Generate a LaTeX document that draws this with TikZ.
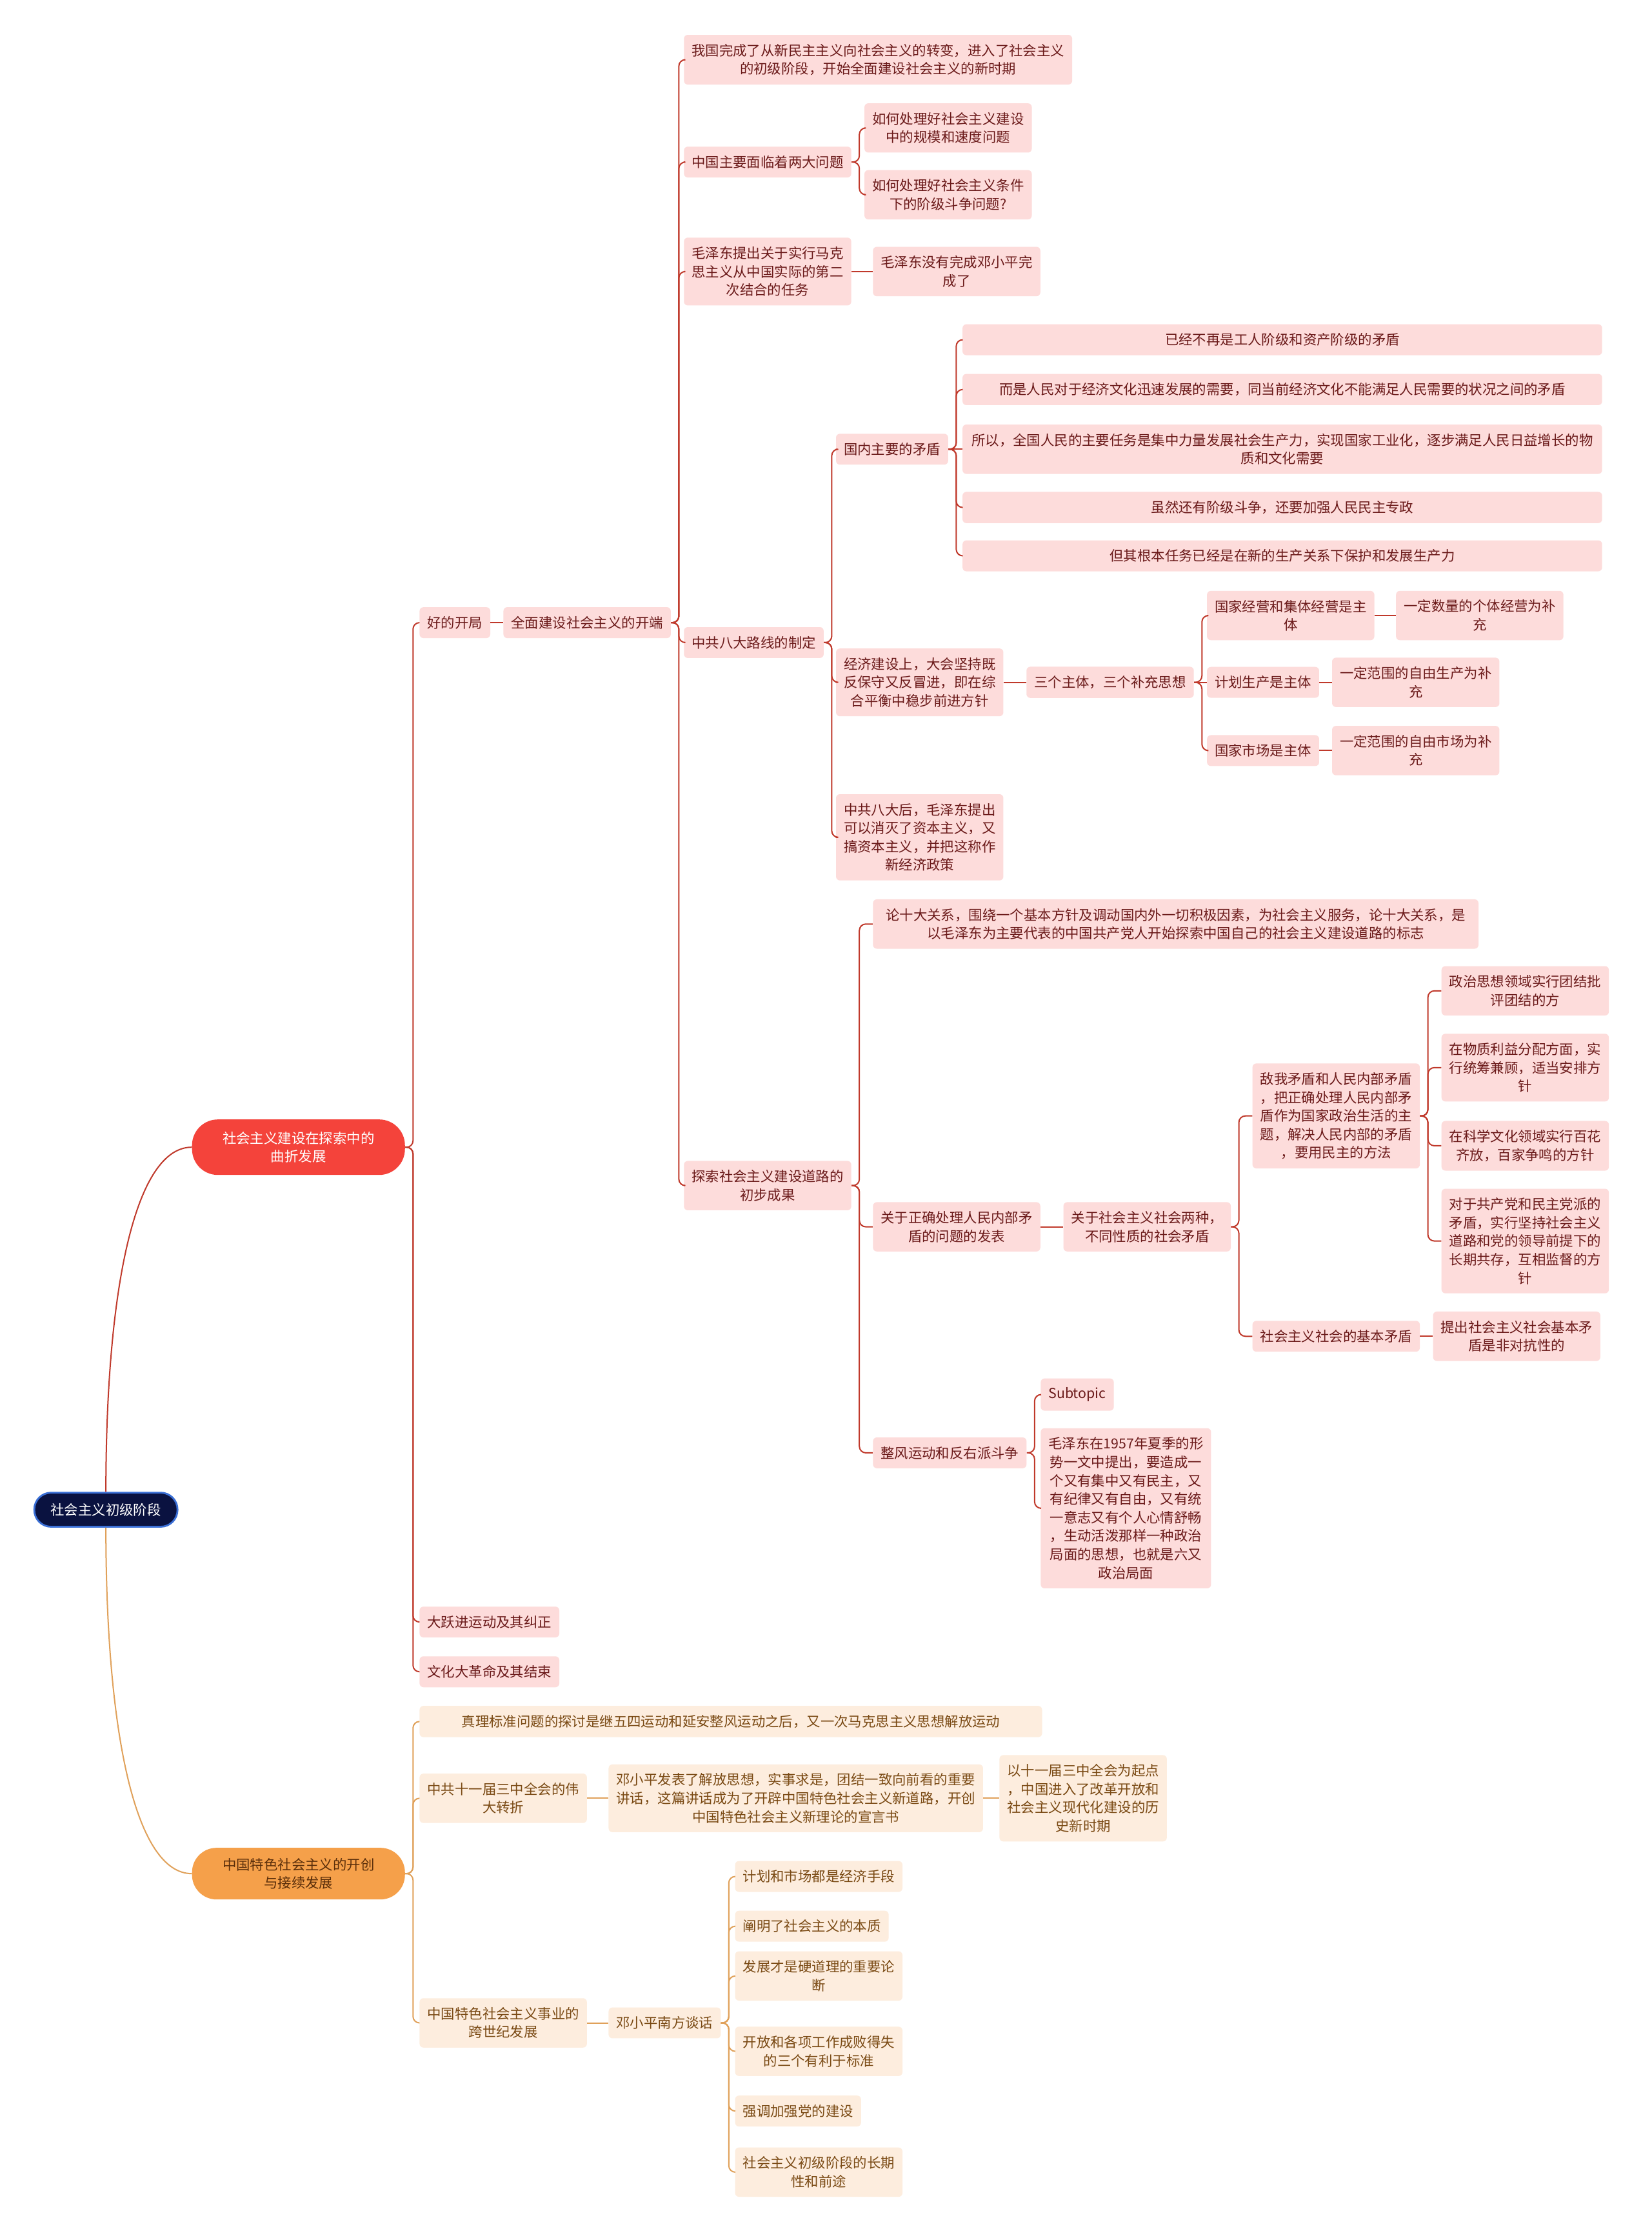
\documentclass[tikz,border=0pt]{standalone}
\usepackage{fontspec}
\setmainfont{Noto Sans CJK SC}
\usetikzlibrary{calc}
\definecolor{rline}{HTML}{C0392B}
\definecolor{rfill}{HTML}{FDDCDB}
\definecolor{rtext}{HTML}{6B1A1A}
\definecolor{oline}{HTML}{E0A15A}
\definecolor{ofill}{HTML}{FDEDDE}
\definecolor{otext}{HTML}{7A4A14}
\definecolor{afill}{HTML}{F4433B}
\definecolor{bfill}{HTML}{F5A04A}
\definecolor{btext}{HTML}{5A2E0A}
\definecolor{rootfill}{HTML}{0A1240}
\definecolor{rootdraw}{HTML}{3A6FD6}
\newcommand{\bx}{\fontsize{10.7pt}{14.3pt}\selectfont}
\newcommand{\busln}[3]{\draw[#1] (#2.east) -- ++(5.5,0) |- (#3.west);}
\newcommand{\strln}[3]{\draw[#1] (#2.east) -- (#3.west);}
\begin{document}
\begin{tikzpicture}[x=1.1016pt,y=-1.1016pt,
  basebox/.style={rounded corners=3pt, inner xsep=6pt, inner ysep=7pt, align=center, font=\bx, anchor=west},
  rb/.style={basebox, fill=rfill, text=rtext},
  ob/.style={basebox, fill=ofill, text=otext},
  rl/.style={draw=rline, line width=1pt, rounded corners=5pt},
  ol/.style={draw=oline, line width=1pt, rounded corners=5pt},
  wide/.style={minimum width=#1*1.1016pt}
]
\fill[white] (0,0) rectangle (1162,1568);
\useasboundingbox (0,0) rectangle (1162,1568);

% root and main branches
\node[fill=rootfill, draw=rootdraw, line width=1.4pt, rounded corners=13pt, text=white, font=\bx,
  minimum width=111pt, minimum height=26.4pt, inner sep=2pt] (root) at (74.5,1062) {社会主义初级阶段};
\node[fill=afill, text=white, rounded corners=20pt, font=\bx, align=center,
  minimum width=165pt, minimum height=43pt, inner sep=2pt] (A) at (210,807) {社会主义建设在探索中的\\曲折发展};
\node[fill=bfill, text=btext, rounded corners=19pt, font=\bx, align=center,
  minimum width=165pt, minimum height=40pt, inner sep=2pt] (B) at (210,1318) {中国特色社会主义的开创\\与接续发展};

% red branch
\node[rb] (a1) at (295,438) {好的开局};
\node[rb] (a2) at (295,1141) {大跃进运动及其纠正};
\node[rb] (a3) at (295,1176) {文化大革命及其结束};
\node[rb] (a11) at (354,438) {全面建设社会主义的开端};

\node[rb] (b1) at (481,42) {我国完成了从新民主主义向社会主义的转变，进入了社会主义\\的初级阶段，开始全面建设社会主义的新时期};
\node[rb] (b2) at (481,114) {中国主要面临着两大问题};
\node[rb] (b3) at (481,191) {毛泽东提出关于实行马克\\思主义从中国实际的第二\\次结合的任务};
\node[rb] (b4) at (481,452) {中共八大路线的制定};
\node[rb] (b5) at (481,834) {探索社会主义建设道路的\\初步成果};

\node[rb] (b21) at (608,90) {如何处理好社会主义建设\\中的规模和速度问题};
\node[rb] (b22) at (608,137) {如何处理好社会主义条件\\下的阶级斗争问题?};
\node[rb] (b31) at (614,191) {毛泽东没有完成邓小平完\\成了};

\node[rb] (c1) at (588,316) {国内主要的矛盾};
\node[rb] (c2) at (588,480) {经济建设上，大会坚持既\\反保守又反冒进，即在综\\合平衡中稳步前进方针};
\node[rb] (c3) at (588,589) {中共八大后，毛泽东提出\\可以消灭了资本主义，又\\搞资本主义，并把这称作\\新经济政策};

\node[rb, wide=450] (c11) at (677,239) {已经不再是工人阶级和资产阶级的矛盾};
\node[rb, wide=450] (c12) at (677,274) {而是人民对于经济文化迅速发展的需要，同当前经济文化不能满足人民需要的状况之间的矛盾};
\node[rb, wide=450] (c13) at (677,316) {所以，全国人民的主要任务是集中力量发展社会生产力，实现国家工业化，逐步满足人民日益增长的物\\质和文化需要};
\node[rb, wide=450] (c14) at (677,357) {虽然还有阶级斗争，还要加强人民民主专政};
\node[rb, wide=450] (c15) at (677,391) {但其根本任务已经是在新的生产关系下保护和发展生产力};

\node[rb] (c21) at (722,480) {三个主体，三个补充思想};
\node[rb] (d1) at (849,433) {国家经营和集体经营是主\\体};
\node[rb] (d2) at (849,480) {计划生产是主体};
\node[rb] (d3) at (849,528) {国家市场是主体};
\node[rb] (d11) at (982,433) {一定数量的个体经营为补\\充};
\node[rb] (d21) at (937,480) {一定范围的自由生产为补\\充};
\node[rb] (d31) at (937,528) {一定范围的自由市场为补\\充};

\node[rb, wide=426] (e1) at (614,650) {论十大关系，围绕一个基本方针及调动国内外一切积极因素，为社会主义服务，论十大关系，是\\以毛泽东为主要代表的中国共产党人开始探索中国自己的社会主义建设道路的标志};
\node[rb] (e2) at (614,863) {关于正确处理人民内部矛\\盾的问题的发表};
\node[rb] (e3) at (614,1022) {整风运动和反右派斗争};
\node[rb] (e21) at (748,863) {关于社会主义社会两种，\\不同性质的社会矛盾};
\node[rb] (f1) at (881,785) {敌我矛盾和人民内部矛盾\\，把正确处理人民内部矛\\盾作为国家政治生活的主\\题，解决人民内部的矛盾\\，要用民主的方法};
\node[rb] (f2) at (881,940) {社会主义社会的基本矛盾};
\node[rb] (f11) at (1014,697) {政治思想领域实行团结批\\评团结的方};
\node[rb] (f12) at (1014,751) {在物质利益分配方面，实\\行统筹兼顾，适当安排方\\针};
\node[rb] (f13) at (1014,806) {在科学文化领域实行百花\\齐放，百家争鸣的方针};
\node[rb] (f14) at (1014,873) {对于共产党和民主党派的\\矛盾，实行坚持社会主义\\道路和党的领导前提下的\\长期共存，互相监督的方\\针};
\node[rb] (f21) at (1008,940) {提出社会主义社会基本矛\\盾是非对抗性的};
\node[rb] (g1) at (732,981) {Subtopic};
\node[rb] (g2) at (732,1061) {毛泽东在1957年夏季的形\\势一文中提出，要造成一\\个又有集中又有民主，又\\有纪律又有自由，又有统\\一意志又有个人心情舒畅\\，生动活泼那样一种政治\\局面的思想，也就是六又\\政治局面};

% orange branch
\node[ob, wide=438] (h1) at (295,1211) {真理标准问题的探讨是继五四运动和延安整风运动之后，又一次马克思主义思想解放运动};
\node[ob] (h2) at (295,1265) {中共十一届三中全会的伟\\大转折};
\node[ob] (h3) at (295,1423) {中国特色社会主义事业的\\跨世纪发展};
\node[ob] (h21) at (428,1265) {邓小平发表了解放思想，实事求是，团结一致向前看的重要\\讲话，这篇讲话成为了开辟中国特色社会主义新道路，开创\\中国特色社会主义新理论的宣言书};
\node[ob] (h211) at (703,1265) {以十一届三中全会为起点\\，中国进入了改革开放和\\社会主义现代化建设的历\\史新时期};
\node[ob] (h31) at (428,1423) {邓小平南方谈话};
\node[ob] (i1) at (517,1320) {计划和市场都是经济手段};
\node[ob] (i2) at (517,1355) {阐明了社会主义的本质};
\node[ob] (i3) at (517,1390) {发展才是硬道理的重要论\\断};
\node[ob] (i4) at (517,1443) {开放和各项工作成败得失\\的三个有利于标准};
\node[ob] (i5) at (517,1485) {强调加强党的建设};
\node[ob] (i6) at (517,1528) {社会主义初级阶段的长期\\性和前途};

% connectors
\draw[rl] (root.north) .. controls ($(root.north)!0.6!(root.north|-A.west)$) and ($(A.west)!0.65!(root.north|-A.west)$) .. (A.west);
\draw[ol] (root.south) .. controls ($(root.south)!0.6!(root.south|-B.west)$) and ($(B.west)!0.65!(root.south|-B.west)$) .. (B.west);

\foreach \c in {a1,a2,a3} {\busln{rl}{A}{\c}}
\strln{rl}{a1}{a11}
\foreach \c in {b1,b2,b3,b4,b5} {\busln{rl}{a11}{\c}}
\foreach \c in {b21,b22} {\busln{rl}{b2}{\c}}
\strln{rl}{b3}{b31}
\foreach \c in {c1,c2,c3} {\busln{rl}{b4}{\c}}
\foreach \c in {c11,c12,c14,c15} {\busln{rl}{c1}{\c}}
\strln{rl}{c1}{c13}
\strln{rl}{c2}{c21}
\foreach \c in {d1,d3} {\busln{rl}{c21}{\c}}
\strln{rl}{c21}{d2}
\strln{rl}{d1}{d11}
\strln{rl}{d2}{d21}
\strln{rl}{d3}{d31}
\foreach \c in {e1,e2,e3} {\busln{rl}{b5}{\c}}
\strln{rl}{e2}{e21}
\foreach \c in {f1,f2} {\busln{rl}{e21}{\c}}
\foreach \c in {f11,f12,f13,f14} {\busln{rl}{f1}{\c}}
\strln{rl}{f2}{f21}
\foreach \c in {g1,g2} {\busln{rl}{e3}{\c}}

\foreach \c in {h1,h2,h3} {\busln{ol}{B}{\c}}
\strln{ol}{h2}{h21}
\strln{ol}{h21}{h211}
\strln{ol}{h3}{h31}
\foreach \c in {i1,i2,i3,i4,i5,i6} {\busln{ol}{h31}{\c}}
\end{tikzpicture}
\end{document}
